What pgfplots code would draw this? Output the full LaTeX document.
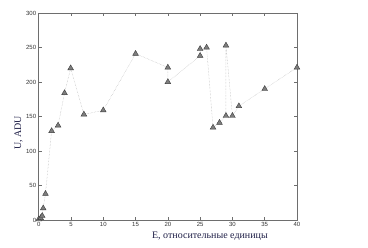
\documentclass[border=0pt]{standalone}
\usepackage{pgfplots}
\pgfplotsset{compat=1.18}
\usepackage{fontspec}
\setmainfont{Liberation Serif}
\setsansfont{Liberation Sans}
\definecolor{lblcol}{RGB}{30,30,70}
\definecolor{axcol}{RGB}{110,110,110}
\definecolor{mkfill}{RGB}{125,125,125}
\definecolor{mkdraw}{RGB}{60,60,60}
\begin{document}
\begin{tikzpicture}[x=1pt,y=1pt]
\useasboundingbox (0,0) rectangle (368,248);
\begin{axis}[
  at={(38.7pt,28pt)}, anchor=south west,
  scale only axis, width=258.3pt, height=207pt,
  xmin=0, xmax=40, ymin=0, ymax=300,
  xtick={0,5,...,40}, ytick={0,50,...,300},
  tick align=inside, tick pos=both,
  major tick length=3pt,
  axis line style={axcol, line width=0.8pt},
  every tick/.style={axcol, line width=0.5pt},
  /pgf/number format/assume math mode=true,
  tick label style={font=\sffamily\fontsize{6}{7}\selectfont, text=black!80},
  xticklabel style={yshift=1pt},
  yticklabel style={xshift=1pt},
  xlabel={E, относительные единицы},
  ylabel={U, ADU},
  label style={font=\fontsize{10}{12}\selectfont, text=lblcol},
  xlabel style={at={(axis description cs:0.663,0)}, anchor=center, yshift=-16pt},
  ylabel style={at={(axis description cs:0,0.42)}, anchor=center, rotate=0, yshift=20pt},
  clip=false,
]
\addplot[densely dotted, color=black!30, line width=0.45pt,
  mark=triangle*, mark size=3.3pt,
  mark options={solid, fill=mkfill, draw=mkdraw, line width=0.4pt}]
coordinates {
(0,1) (0.3,3) (0.55,6) (0.7,17) (1.05,38) (2,129) (3,137) (4,184) (4.95,220)
(7,153) (10,159) (15,241) (20,221) (20,200) (25,238) (25,248) (26,250)
(27,134) (28,141) (29,151) (29,253) (30,151) (31,165) (35,190) (40,221)
};
\end{axis}
\end{tikzpicture}
\end{document}
